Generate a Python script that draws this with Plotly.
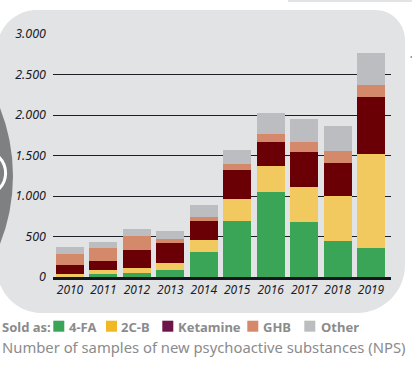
import plotly.graph_objects as go

# ---- data ----
years = [2010, 2011, 2012, 2013, 2014, 2015, 2016, 2017, 2018, 2019]
fa4 = [5, 41, 50, 83, 306, 689, 1048, 678, 443, 357]
c2b = [32, 45, 62, 87, 148, 273, 322, 433, 557, 1162]
ketamine = [111, 115, 219, 247, 235, 358, 297, 433, 408, 704]
ghb = [136, 161, 174, 49, 50, 75, 103, 124, 148, 148]
other = [90, 70, 88, 100, 148, 173, 255, 285, 310, 396]
series_names = ["4-FA", "2C-B", "Ketamine", "GHB", "Other"]
y_ticks = [0, 500, 1000, 1500, 2000, 2500, 3000]

bar_colors = ["#3aa457", "#f2c95f", "#6a0005", "#d4896b", "#bcbdc0"]
legend_colors = ["#3aa457", "#f0b823", "#6d1548", "#d4896b", "#bcbdc0"]

W_FIG, H_FIG = 412, 368
L, T, R_M, B_M = 53, 34, 21, 91
PW = W_FIG - L - R_M
PH = H_FIG - T - B_M


def xp(px):
    return (px - L) / PW


def yp(py):
    return (T + PH - py) / PH


fig = go.Figure()
for name, vals, col in zip(series_names, [fa4, c2b, ketamine, ghb, other], bar_colors):
    fig.add_trace(go.Bar(x=years, y=vals, name=name, marker=dict(color=col, line=dict(width=0)),
                         width=0.84, showlegend=False))


# ---- background panel (rounded rect) ----
def rounded_path(left, top, right, bottom, rtl, rtr, rbr, rbl):
    k = 0.5523

    def P(x, y):
        return f"{xp(x):.5f},{yp(y):.5f}"
    d = f"M {P(left, top + rtl)} "
    d += f"C {P(left, top + rtl - k * rtl)} {P(left + rtl - k * rtl, top)} {P(left + rtl, top)} "
    d += f"L {P(right - rtr, top)} "
    d += f"C {P(right - rtr + k * rtr, top)} {P(right, top + rtr - k * rtr)} {P(right, top + rtr)} "
    d += f"L {P(right, bottom - rbr)} "
    d += f"C {P(right, bottom - rbr + k * rbr)} {P(right - rbr + k * rbr, bottom)} {P(right - rbr, bottom)} "
    d += f"L {P(left + rbl, bottom)} "
    d += f"C {P(left + rbl - k * rbl, bottom)} {P(left, bottom - rbl + k * rbl)} {P(left, bottom - rbl)} Z"
    return d


shapes = []
shapes.append(dict(type="path", xref="paper", yref="paper", layer="below",
                   path=rounded_path(-3, 10, 405, 313, 40, 30, 48, 45),
                   fillcolor="#e2e3e5", line=dict(width=0)))
# thin strip of panel above
shapes.append(dict(type="rect", xref="paper", yref="paper", layer="below",
                   x0=xp(288), x1=xp(413), y0=yp(2), y1=yp(-1),
                   fillcolor="#e2e3e5", line=dict(width=0)))
# dark circle on the left
cx, cy, cr = -171, 176, 184
shapes.append(dict(type="circle", xref="paper", yref="paper", layer="below",
                   x0=xp(cx - cr), x1=xp(cx + cr), y0=yp(cy + cr), y1=yp(cy - cr),
                   fillcolor="#7f8082", line=dict(width=0)))
wx, wy, wr = -17, 173, 22.6
shapes.append(dict(type="circle", xref="paper", yref="paper", layer="below",
                   x0=xp(wx - wr), x1=xp(wx + wr), y0=yp(wy + wr), y1=yp(wy - wr),
                   fillcolor="rgba(0,0,0,0)", line=dict(width=3, color="#ffffff")))
# small mark on the right
shapes.append(dict(type="rect", xref="paper", yref="paper", layer="below",
                   x0=xp(410.5), x1=xp(412), y0=yp(58), y1=yp(56),
                   fillcolor="#9a9b9d", line=dict(width=0)))

# ---- manual legend ----
sq_x = [53.3, 106, 162.3, 247.3, 304.3]
tx_x = [66.7, 119.3, 175.7, 261, 318.7]
annotations = []
for i, name in enumerate(series_names):
    shapes.append(dict(type="rect", xref="paper", yref="paper",
                       x0=xp(sq_x[i]), x1=xp(sq_x[i] + 11), y0=yp(331.7), y1=yp(320.7),
                       fillcolor=legend_colors[i], line=dict(width=0)))
    annotations.append(dict(xref="paper", yref="paper", x=xp(tx_x[i]), y=yp(326.5),
                            xanchor="left", yanchor="middle", showarrow=False, text=name,
                            font=dict(family="Noto Sans", size=13, color="#8b8b8d", weight="bold")))
annotations.append(dict(xref="paper", yref="paper", x=xp(0), y=yp(326.5),
                        xanchor="left", yanchor="middle", showarrow=False, text="Sold as:",
                        font=dict(family="Noto Sans", size=13, color="#8b8b8d", weight="bold")))
annotations.append(dict(xref="paper", yref="paper", x=xp(0), y=yp(347),
                        xanchor="left", yanchor="middle", showarrow=False,
                        text="Number of samples of new psychoactive substances (NPS)",
                        font=dict(family="Noto Sans", size=14.8, color="#8b8b8d")))

fig.update_layout(
    width=W_FIG, height=H_FIG,
    margin=dict(l=L, r=R_M, t=T, b=B_M, pad=0),
    paper_bgcolor="#ffffff", plot_bgcolor="rgba(0,0,0,0)",
    barmode="stack", separators=",.",
    shapes=shapes, annotations=annotations, showlegend=False,
    font=dict(family="Noto Sans"),
)
fig.update_xaxes(range=[2009.492, 2019.598], tickvals=years, ticktext=[str(y) for y in years],
                 showgrid=False, zeroline=False, showline=True, linewidth=3, linecolor="#131820",
                 ticks="", tickfont=dict(family="Noto Sans", size=12, color="#1c1c28", style="italic"),
                 fixedrange=True)
fig.update_yaxes(range=[0, 3000], tickvals=y_ticks, separatethousands=True, tickformat=",d",
                 showgrid=True, gridcolor="#1b1f27", gridwidth=1.3, zeroline=False, showline=False,
                 ticks="", ticklabelstandoff=6,
                 tickfont=dict(family="Noto Sans", size=12.5, color="#1c1c28", style="italic"),
                 fixedrange=True)

fig.write_html("out.html", config={"displayModeBar": False},
               post_script="document.body.style.margin='0';")
